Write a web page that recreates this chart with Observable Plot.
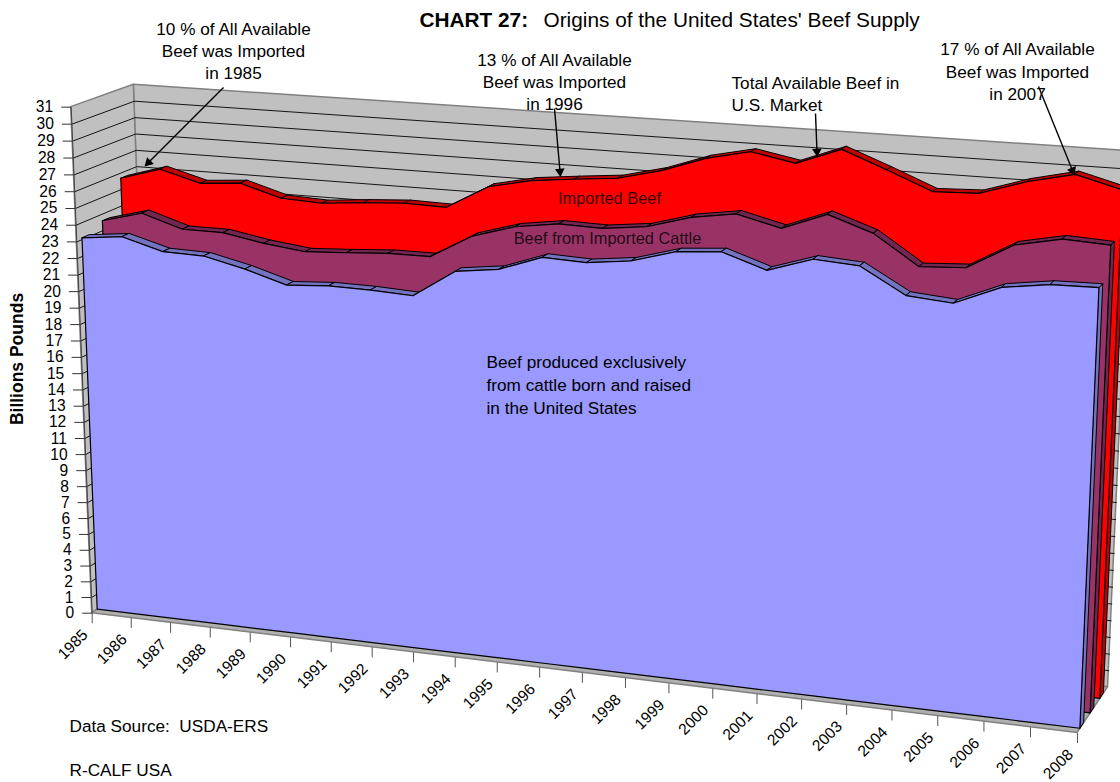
<!DOCTYPE html>
<html><head><meta charset="utf-8">
<script src="https://cdn.jsdelivr.net/npm/d3@7"></script>
<script src="https://cdn.jsdelivr.net/npm/@observablehq/plot@0.6"></script>
<style>body{margin:0;background:#fff}svg{display:block}</style>
</head><body><div id="c"></div>
<script>
const years=[1985,1986,1987,1988,1989,1990,1991,1992,1993,1994,1995,1996,1997,1998,1999,2000,2001,2002,2003,2004,2005,2006,2007,2008];
const usBeef=[23.06,23.33,22.64,22.58,22.01,21.27,21.43,21.40,21.28,22.92,23.24,24.14,24.04,24.34,25.07,25.27,24.43,25.26,25.09,23.65,23.44,24.53,24.90,24.95];
const importedCattle=[23.56,24.21,23.44,23.43,22.99,22.69,22.83,23.00,23.01,24.42,25.16,25.52,25.46,25.75,26.48,26.87,26.25,27.23,26.36,24.69,24.84,26.31,26.84,26.71];
const importedBeef=[25.65,26.38,25.71,25.90,25.18,25.07,25.29,25.45,25.40,26.80,27.34,27.61,27.85,28.47,29.36,29.91,29.43,30.40,29.42,28.38,28.48,29.31,29.90,29.22];
const valueTicks=d3.range(0,32);

// 3-D view of the (year, billions of pounds, series depth) box
const VMAX=31;
function view(t,v,d){
  const a=-.09258,b=-.04143,c=.03323,p=v/VMAX;
  const w=1+a*t+b*p+c*d;
  return [(91.7+a*t*-9566+b*p*577.6+c*d*1940)/w,(612.7+a*t*-561.7+b*p*12321+c*d*-562.6)/w];
}
const tOf=i=>i/(years.length-1);
const W=1120,H=782;

function wall(pts){
  return pts.map(([t,d])=>{const p=view(t,0,d),q=view(t,VMAX,d);return {x1:p[0],y1:p[1],x2:q[0],y2:q[1]};});
}
function frontFace(vals,d){
  return vals.map((v,i)=>{const t=tOf(i),p=view(t,0,d),q=view(t,v,d);return {x1:p[0],y1:p[1],x2:q[0],y2:q[1]};});
}
function topBand(vals,d1,d2){
  const out=[];
  for(let i=0;i<vals.length-1;i++){
    for(const j of [i,i+1]){
      const t=tOf(j),p=view(t,vals[j],d1),q=view(t,vals[j],d2);
      out.push({x1:p[0],y1:p[1],x2:q[0],y2:q[1],z:i});
    }
  }
  return out;
}
function endFace(vals,d1,d2){
  const v=vals[vals.length-1];
  return [d1,d2].map(d=>{const p=view(1,0,d),q=view(1,v,d);return {x1:p[0],y1:p[1],x2:q[0],y2:q[1]};});
}
const area=(data,fill,opt={})=>Plot.area(data,{x1:"x1",y1:"y1",x2:"x2",y2:"y2",z:data[0].z!==undefined?"z":null,fill,stroke:"#000",strokeWidth:1,...opt});
function series(vals,d1,d2,front,side){
  return [
    area(endFace(vals,d1,d2),side),
    area(topBand(vals,d1,d2),side),
    area(frontFace(vals,d1),front,{strokeWidth:1.2})
  ];
}
const gridLines=valueTicks.slice(1,31).flatMap(v=>[[0,0],[0,1],[1,1]].map(([t,d])=>{const p=view(t,v,d);return {x:p[0],y:p[1],v};}));
const floor=[0,1].map(t=>{const p=view(t,0,0),q=view(t,0,1);return {x1:p[0],y1:p[1],x2:q[0],y2:q[1]};});
const yTicks=valueTicks.map(v=>{const p=view(0,v,0);return {x:p[0],y:p[1],v};});
const xTicks=years.map((yr,i)=>{const p=view(tOf(i),0,0);return {x:p[0],y:p[1],yr};});
const axisEdge=[[0,VMAX]].map(([v0,v1])=>{const p=view(0,v0,0),q=view(0,v1,0);return {x1:p[0],y1:p[1],x2:q[0],y2:q[1]};});

const font={fontFamily:"'Liberation Sans',Arial,sans-serif",fontSize:17.2,fill:"#000",stroke:"none"};
const notes=[
 {s:"10 % of All Available",x:233,y:29},{s:"Beef was Imported",x:233,y:51},{s:"in 1985",x:233,y:73},
 {s:"13 % of All Available",x:554,y:60},{s:"Beef was Imported",x:554,y:82},{s:"in 1996",x:554,y:104},
 {s:"17 % of All Available",x:1017,y:49},{s:"Beef was Imported",x:1017,y:72},{s:"in 2007",x:1017,y:94}
];
const seriesNotes=[{s:"Imported Beef",x:609,y:198},{s:"Beef from Imported Cattle",x:607,y:238}];
const leftNotes=[
 {s:"Total Available Beef in",x:731,y:83},{s:"U.S. Market",x:731,y:105},
 {s:"Beef produced exclusively",x:486,y:362},{s:"from cattle born and raised",x:486,y:385},{s:"in the United States",x:486,y:408},
 {s:"Data Source:  USDA-ERS",x:69,y:726},{s:"R-CALF USA",x:69,y:770}
];
const arrows=[
 {x1:223,y1:87,x2:148,y2:162},{x1:554,y1:108,x2:559.5,y2:171},{x1:815,y1:113,x2:816.5,y2:151},{x1:1038,y1:86,x2:1072,y2:170}
];
const heading=d=>Math.atan2(d.x2-d.x1,d.y1-d.y2)*180/Math.PI;

const chart=Plot.plot({
  width:W,height:H,margin:0,
  style:{background:"#fff"},
  x:{axis:null,domain:[0,W],range:[0,W]},
  y:{axis:null,domain:[0,H],range:[0,H]},
  marks:[
    area(wall([[0,1],[1,1]]),"#c0c0c0",{stroke:"#808080",strokeWidth:1.5}),
    area(wall([[0,0],[0,1]]),"#c0c0c0",{stroke:"#808080",strokeWidth:1.5}),
    area(floor,"#b0b0b0",{stroke:"#808080",strokeWidth:1.5}),
    Plot.line(gridLines,{x:"x",y:"y",z:"v",stroke:"#000",strokeWidth:.9}),
    Plot.link(yTicks,{x1:d=>d.x-10,x2:"x",y1:"y",y2:"y",stroke:"#333",strokeWidth:1}),
    Plot.link(xTicks,{x1:"x",x2:"x",y1:"y",y2:d=>d.y+10,stroke:"#555",strokeWidth:1}),
    Plot.link(axisEdge,{x1:"x1",y1:"y1",x2:"x2",y2:"y2",stroke:"#444",strokeWidth:1}),
    ...series(importedBeef,.74,.86,"#ff0000","#c00000"),
    ...series(importedCattle,.42,.54,"#993366","#732650"),
    ...series(usBeef,.09,.21,"#9999ff","#7373bf"),
    Plot.text(yTicks,{x:"x",y:"y",text:"v",dx:-18,textAnchor:"end",...font,fontSize:15.6}),
    Plot.text(xTicks,{x:"x",y:"y",text:d=>String(d.yr),dx:-7,dy:19,rotate:-45,textAnchor:"end",...font,fontSize:15.6}),
    Plot.text(notes,{x:"x",y:"y",text:"s",textAnchor:"middle",...font}),
    Plot.text(seriesNotes,{x:"x",y:"y",text:"s",textAnchor:"middle",...font,fontSize:16.4,fillOpacity:.8}),
    Plot.text(leftNotes,{x:"x",y:"y",text:"s",textAnchor:"start",...font}),
    Plot.text([{s:"Origins of the United States' Beef Supply",x:543,y:20}],{x:"x",y:"y",text:"s",textAnchor:"start",...font,fontSize:20.8}),
    Plot.text([{s:"CHART 27:",x:419,y:20}],{x:"x",y:"y",text:"s",textAnchor:"start",...font,fontSize:20.8,fontWeight:"bold"}),
    Plot.text([{s:"Billions Pounds",x:17,y:358.5}],{x:"x",y:"y",text:"s",rotate:-90,textAnchor:"middle",...font,fontSize:17.5,fontWeight:"bold"}),
    Plot.link(arrows,{x1:"x1",y1:"y1",x2:"x2",y2:"y2",stroke:"#000",strokeWidth:1.4}),
    Plot.dot(arrows,{x:"x2",y:"y2",symbol:"triangle2",r:4.6,fill:"#000",stroke:"none",rotate:heading})
  ]
});
document.getElementById("c").append(chart);
</script></body></html>
